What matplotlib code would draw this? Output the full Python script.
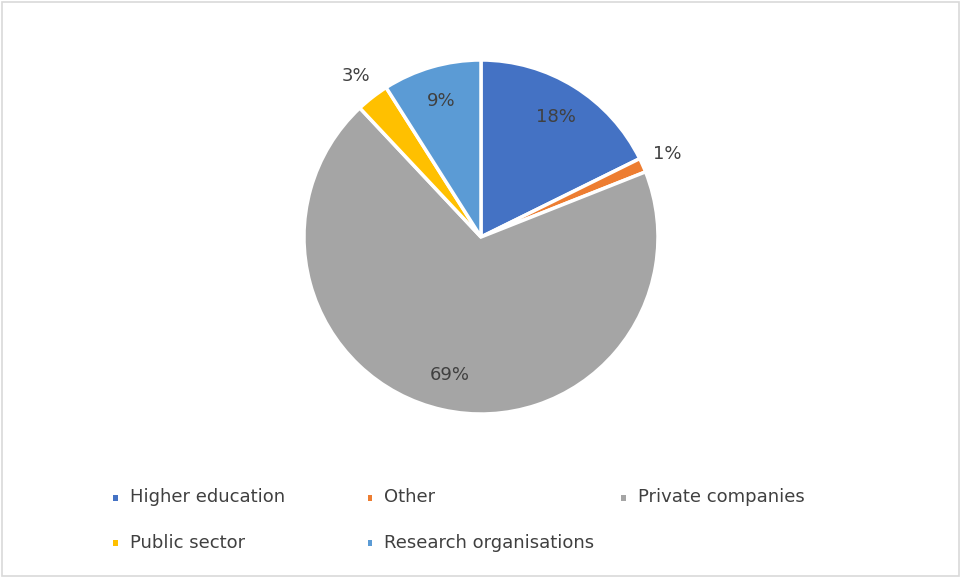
import matplotlib.pyplot as plt
from matplotlib.patches import Rectangle

categories = ["Higher education", "Other", "Private companies", "Public sector", "Research organisations"]
shares = [17.7, 1.3, 69.0, 3.0, 9.0]
colors = ["#4472C4", "#ED7D31", "#A5A5A5", "#FFC000", "#5B9BD5"]

fig = plt.figure(figsize=(9.61, 5.78), dpi=100)
fig.patch.set_facecolor("white")
# thin grey frame like the exported Excel chart
fig.patches.append(Rectangle((0.002, 0.003), 0.996, 0.994, transform=fig.transFigure,
                             fill=False, edgecolor="#D9D9D9", linewidth=1.2))

ax = fig.add_axes([0.3163, 0.2837, 0.3684, 0.6125])
wedges, texts, autotexts = ax.pie(shares, colors=colors, startangle=90, counterclock=False,
                                  autopct="%.0f%%", pctdistance=0.8,
                                  wedgeprops=dict(edgecolor="white", linewidth=2.5),
                                  textprops=dict(color="#404040", fontsize=13))
# small slices get their labels outside
for t, s in zip(autotexts, shares):
    if s < 5:
        x, y = t.get_position()
        t.set_position((x / 0.8 * 1.15, y / 0.8 * 1.15))
ax.set_aspect("equal")
ax.set_xlim(-1, 1)
ax.set_ylim(-1, 1)

# legend drawn by hand to match Excel's layout
leg_x = [0.122, 0.387, 0.651]
leg_y = [0.140, 0.061]
for i, (name, c) in enumerate(zip(categories, colors)):
    col = i % 3
    row = i // 3
    fig.patches.append(Rectangle((leg_x[col] - 0.0045, leg_y[row] - 0.006), 0.005, 0.01,
                                 transform=fig.transFigure, facecolor=c, edgecolor="none"))
    fig.text(leg_x[col] + 0.013, leg_y[row], name, fontsize=13, color="#404040", va="center")

fig.savefig("out.png", dpi=100)
